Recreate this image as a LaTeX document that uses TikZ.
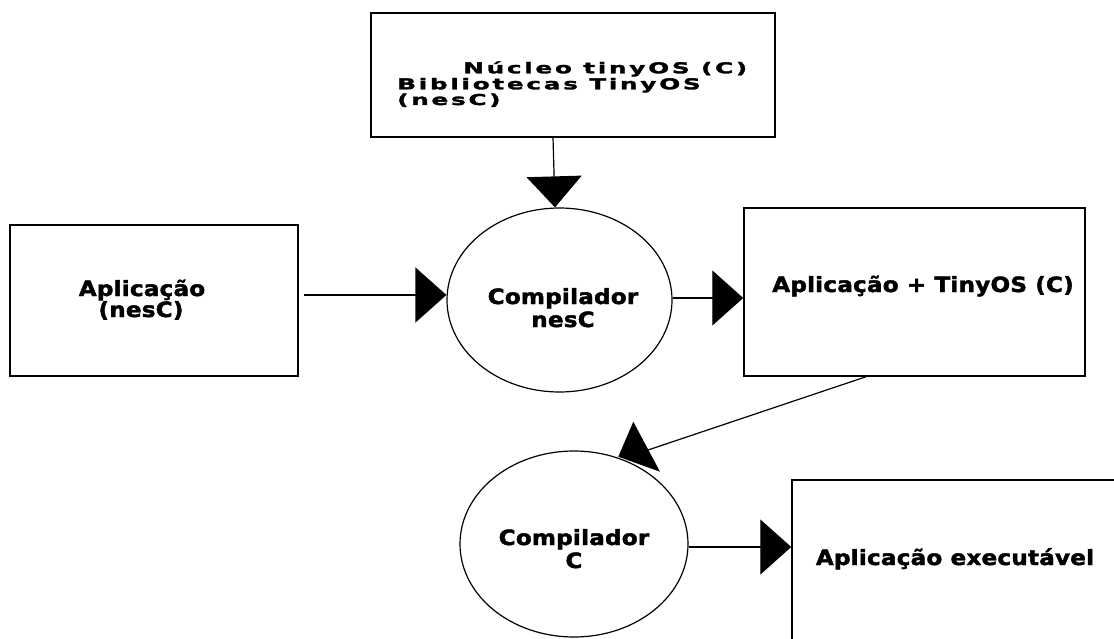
\documentclass[tikz,border=0pt]{standalone}
\usepackage{fontspec}
\usetikzlibrary{arrows.meta,shapes.geometric}
% heavy, wide label faces
\newfontfamily\lblfont[FakeStretch=1.1,LetterSpace=1,FakeBold=2]{DejaVu Sans}
\newfontfamily\corefont[FakeStretch=1.65,LetterSpace=18,FakeBold=2]{DejaVu Sans}

\begin{document}
\begin{tikzpicture}[x=1pt,y=-1pt,
  box/.style={draw, line width=1.5pt, rectangle, inner sep=0pt},
  oval/.style={draw, line width=1.2pt, ellipse, inner sep=0pt},
  lbl/.style={font=\lblfont\bfseries\fontsize{21}{23}\selectfont, inner sep=0pt, anchor=base},
  corelbl/.style={font=\corefont\bfseries\fontsize{15}{16}\selectfont, inner sep=0pt, anchor=base west},
  conn/.style={line width=1.2pt, -{Triangle[length=31pt,width=55pt]}},
  plain/.style={line width=1.2pt}]
  \useasboundingbox (0,0) rectangle (1114,639);
  \clip (0,0) rectangle (1114,639);

  % boxes and compilers
  \node[box, minimum width=404pt, minimum height=124pt] (nuc) at (573,75) {};
  \node[box, minimum width=288pt, minimum height=151pt] (app) at (154,300.5) {};
  \node[oval, minimum width=225pt, minimum height=184pt] (cn) at (559.5,300) {};
  \node[box, minimum width=341pt, minimum height=168pt] (appos) at (914.5,292) {};
  \node[oval, minimum width=228pt, minimum height=186pt] (cc) at (574,544) {};
  \node[box, minimum width=343pt, minimum height=180pt] (exe) at (963.5,570) {};

  % texts
  \node[corelbl] (t1) at (463,73.3) {Núcleo tinyOS (C)};
  \node[corelbl] (t2) at (397,89.3) {Bibliotecas TinyOS};
  \node[corelbl] (t3) at (397,105) {(nesC)};
  \node[lbl] (a1) at (142,296) {Aplicação};
  \node[lbl] (a2) at (141,317) {(nesC)};
  \node[lbl] (c1) at (563,304) {Compilador};
  \node[lbl] (c2) at (563,327) {nesC};
  \node[lbl] (o1) at (923,292) {Aplicação + TinyOS (C)};
  \node[lbl] (d1) at (574,545) {Compilador};
  \node[lbl] (d2) at (574,568) {C};
  \node[lbl] (e1) at (955,565) {Aplicação executável};

  % connectors
  \draw[conn] ([xshift=-20pt]nuc.south) -- ([xshift=-4.5pt]cn.north);
  \draw[conn] ([shift={(5pt,5.5pt)}]app.east) -- ([yshift=5pt]cn.west);
  \draw[conn] ([yshift=2pt]cn.east) -- ([yshift=-6pt]appos.west);
  \coordinate (cctip) at (648,450);
  \draw[plain] ([xshift=-48.5pt]appos.south) -- (cctip);
  \fill (633.3,421.7) -- (618.3,456.7) -- (660,471.7) -- cycle;
  \draw[conn] ([yshift=-3pt]cc.east) -- ([yshift=23pt]exe.west);
\end{tikzpicture}
\end{document}
